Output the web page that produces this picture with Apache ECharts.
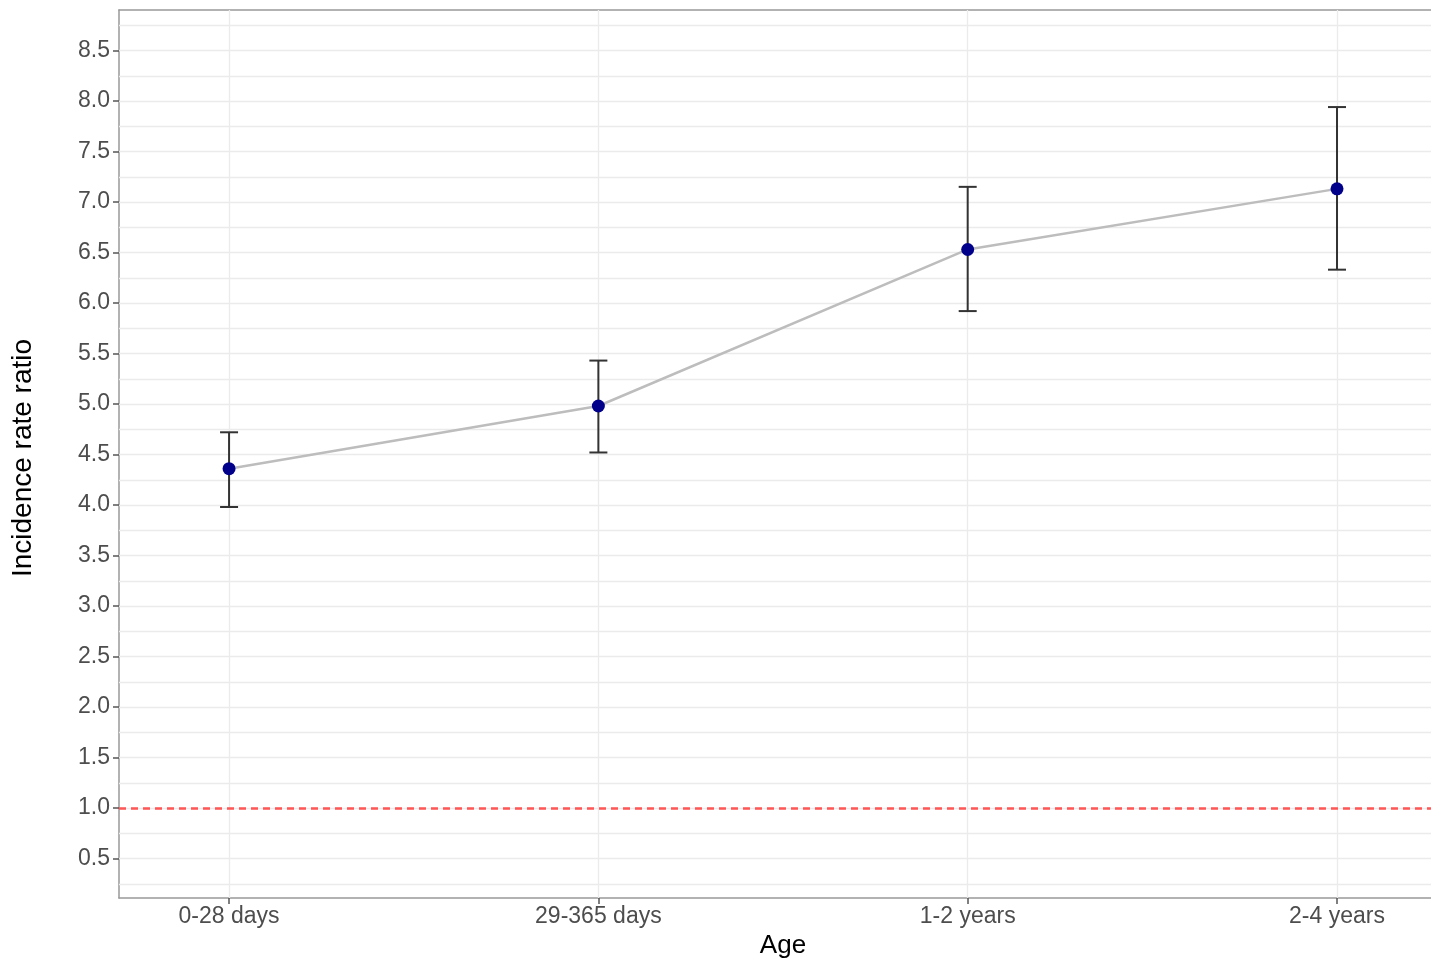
<!DOCTYPE html>
<html>
<head>
<meta charset="utf-8">
<title>Incidence rate ratio by age</title>
<script src="https://cdn.jsdelivr.net/npm/echarts@6/dist/echarts.min.js"></script>
<style>
  html, body { margin: 0; padding: 0; background: #fff; }
  #chart { width: 1431px; height: 960px; }
</style>
</head>
<body>
<div id="chart"></div>
<script>
// data
const categories = ['0-28 days', '29-365 days', '1-2 years', '2-4 years']
const irr = [4.36, 4.98, 6.53, 7.13]
const lower = [3.98, 4.52, 5.92, 6.33]
const upper = [4.72, 5.43, 7.15, 7.94]
const yTicks = [0.5, 1.0, 1.5, 2.0, 2.5, 3.0, 3.5, 4.0, 4.5, 5.0, 5.5, 6.0, 6.5, 7.0, 7.5, 8.0, 8.5]
const yMinor = [0.25, 0.75, 1.25, 1.75, 2.25, 2.75, 3.25, 3.75, 4.25, 4.75, 5.25, 5.75, 6.25, 6.75, 7.25, 7.75, 8.25, 8.75]
const refValue = 1.0

const font = "'Liberation Sans', Arial, sans-serif"
const xPos = categories.map((c, i) => i + 1)

const chart = echarts.init(document.getElementById('chart'))

const gridLines = []
yMinor.concat(yTicks).forEach(v => gridLines.push({ yAxis: v }))
xPos.forEach(v => gridLines.push({ xAxis: v }))

const option = {
  animation: false,
  grid: { left: 119, right: 0, top: 10, bottom: 62, outerBoundsMode: 'none', containLabel: false },
  xAxis: [{
    type: 'value',
    min: 0.702,
    max: 4.2545,
    name: 'Age',
    nameLocation: 'middle',
    nameGap: 33,
    nameTextStyle: { color: '#000', fontSize: 26, fontFamily: font, padding: [0, 0, 0, 16] },
    axisLine: { show: true, lineStyle: { color: '#999', width: 1.5 } },
    axisTick: { show: true, customValues: xPos, length: 6, lineStyle: { color: '#555', width: 1.5 } },
    axisLabel: {
      customValues: xPos,
      formatter: v => categories[Math.round(v) - 1],
      color: '#4d4d4d', fontSize: 23, fontFamily: font, margin: 7
    },
    splitLine: { show: false }
  }, {
    type: 'value',
    position: 'top',
    min: 0.702,
    max: 4.2545,
    axisLine: { show: true, lineStyle: { color: '#999', width: 1.5 } },
    axisTick: { show: false },
    axisLabel: { show: false },
    splitLine: { show: false }
  }],
  yAxis: {
    type: 'value',
    min: 0.109,
    max: 8.901,
    name: 'Incidence rate ratio',
    nameLocation: 'middle',
    nameGap: 82,
    nameTextStyle: { color: '#000', fontSize: 28, fontFamily: font, padding: [0, 8, 0, 0] },
    axisLine: { show: true, lineStyle: { color: '#999', width: 1.5 } },
    axisTick: { show: true, customValues: yTicks, length: 6, lineStyle: { color: '#555', width: 1.5 } },
    axisLabel: {
      customValues: yTicks,
      formatter: v => v.toFixed(1),
      color: '#4d4d4d', fontSize: 23, fontFamily: font, margin: 9
    },
    splitLine: { show: false }
  },
  series: [
    {
      type: 'line',
      z: 2,
      data: xPos.map((x, i) => [x, irr[i]]),
      symbol: 'none',
      lineStyle: { color: '#bdbdbd', width: 2.5 },
      markLine: {
        silent: true,
        symbol: 'none',
        z: 1,
        label: { show: false },
        lineStyle: { color: '#ebebeb', width: 1.3, type: 'solid' },
        data: gridLines
      }
    },
    {
      type: 'line',
      z: 3,
      data: [],
      markLine: {
        silent: true,
        symbol: 'none',
        z: 2,
        label: { show: false },
        lineStyle: { color: '#ff5656', width: 2.5, type: [7, 5] },
        data: [{ yAxis: refValue }]
      }
    },
    {
      type: 'custom',
      z: 4,
      data: xPos.map((x, i) => [x, lower[i], upper[i]]),
      renderItem: (params, api) => {
        const lo = api.coord([api.value(0), api.value(1)])
        const hi = api.coord([api.value(0), api.value(2)])
        const cap = 9
        const style = { stroke: '#333333', lineWidth: 2 }
        return {
          type: 'group',
          children: [
            { type: 'line', shape: { x1: lo[0], y1: lo[1], x2: hi[0], y2: hi[1] }, style },
            { type: 'line', shape: { x1: lo[0] - cap, y1: lo[1], x2: lo[0] + cap, y2: lo[1] }, style },
            { type: 'line', shape: { x1: hi[0] - cap, y1: hi[1], x2: hi[0] + cap, y2: hi[1] }, style }
          ]
        }
      }
    },
    {
      type: 'scatter',
      z: 5,
      data: xPos.map((x, i) => [x, irr[i]]),
      symbol: 'circle',
      symbolSize: 13,
      itemStyle: { color: '#00008b', opacity: 1 }
    }
  ]
}

chart.setOption(option)
</script>
</body>
</html>
